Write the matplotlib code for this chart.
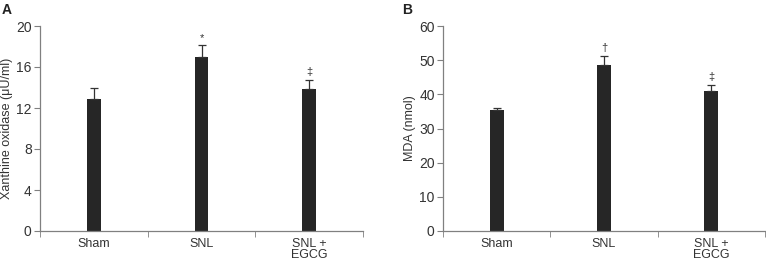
import numpy as np
import matplotlib
matplotlib.use("Agg")
import matplotlib.pyplot as plt

groups = ["Sham", "SNL", "SNL +\nEGCG"]
# panel A: xanthine oxidase
xo_mean = [12.9, 17.0, 13.9]
xo_err = [1.1, 1.1, 0.85]
xo_marks = ["", "*", "\u2021"]
# panel B: MDA
mda_mean = [35.3, 48.5, 41.0]
mda_err = [0.6, 2.8, 1.8]
mda_marks = ["", "\u2020", "\u2021"]

plt.rcParams['font.family'] = ['Liberation Sans', 'DejaVu Sans']
fig = plt.figure(figsize=(7.66, 2.63), dpi=100)
axA = fig.add_axes([40/766, 32/263, 323/766, 205/263])
axB = fig.add_axes([443/766, 32/263, 322/766, 205/263])

def panel(ax, mean, err, marks, ymax, step, ylabel):
    x = np.arange(len(mean))
    ax.bar(x, mean, width=0.13, color="#262626", zorder=2)
    ax.errorbar(x, mean, yerr=[np.zeros(len(err)), err], fmt="none",
                ecolor="#333333", elinewidth=0.9, capsize=3, capthick=0.9, zorder=3)
    for xi, m, e, s in zip(x, mean, err, marks):
        if s:
            ax.text(xi, m + e + ymax*0.012, s, ha="center", va="bottom", fontsize=8, color="#333333")
    ax.set_xlim(-0.5, len(mean) - 0.5)
    ax.set_ylim(0, ymax)
    ax.set_yticks(np.arange(0, ymax + step/2, step))
    ax.set_xticks(x)
    ax.set_xticklabels(groups, fontsize=9, color="#333333", linespacing=0.95)
    ax.tick_params(axis="x", length=0, pad=5)
    ax.set_xticks(np.arange(-0.5, len(mean)), minor=True)
    ax.tick_params(axis="x", which="minor", length=4, color="#808080", direction="out")
    ax.tick_params(axis="y", length=4, color="#808080", labelsize=10, labelcolor="#333333", pad=2)
    ax.set_ylabel(ylabel, fontsize=9, color="#333333", labelpad=2)
    for sp in ["top", "right"]:
        ax.spines[sp].set_visible(False)
    for sp in ["left", "bottom"]:
        ax.spines[sp].set_color("#808080")
        ax.spines[sp].set_linewidth(0.9)

panel(axA, xo_mean, xo_err, xo_marks, 20, 4, "Xanthine oxidase (\u03bcU/ml)")
panel(axB, mda_mean, mda_err, mda_marks, 60, 10, "MDA (nmol)")

fig.text(2/766, 1 - 3/263, "A", fontsize=10, fontweight="bold", va="top", ha="left", color="#222222")
fig.text(402/766, 1 - 3/263, "B", fontsize=10, fontweight="bold", va="top", ha="left", color="#222222")

fig.savefig("out.png", dpi=100)
